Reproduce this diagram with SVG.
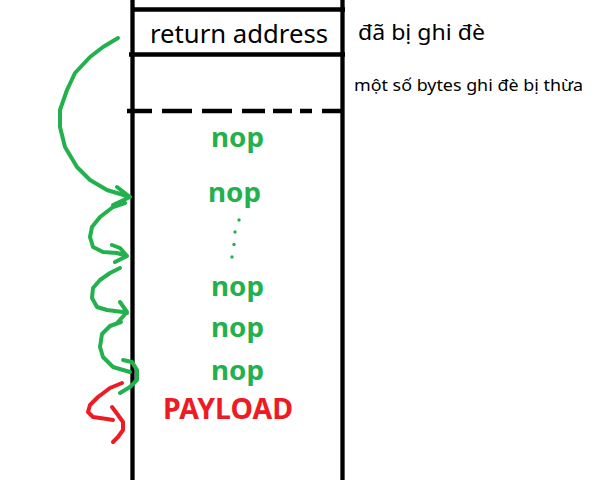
<svg xmlns="http://www.w3.org/2000/svg" width="612" height="480" viewBox="0 0 612 480">
<style>
.bl{stroke:#000;stroke-width:4.3;fill:none}
.g{stroke:#22b14c;stroke-width:4;fill:none;stroke-linecap:round;stroke-linejoin:round}
.r{stroke:#ed1c24;stroke-width:4;fill:none;stroke-linecap:round;stroke-linejoin:round}
.lbl{font-family:"Noto Sans","Open Sans","DejaVu Sans",sans-serif;fill:#000}
.nop{font-family:"Noto Sans","Open Sans","DejaVu Sans",sans-serif;font-weight:bold;font-size:27px;fill:#22b14c}
.pay{font-family:"Noto Sans","Open Sans","DejaVu Sans",sans-serif;font-weight:bold;font-size:28px;fill:#ed1c24}
</style>
<rect width="612" height="480" fill="#fff"/>
<g id="stack">
<path class="bl" d="M132.5,0 V480 M342.5,0 V480 M131,9.5 H345 M129,54.5 H345"/>
<path class="bl" d="M127,111 H152 M162,111 H192 M202,111 H232 M242,111 H265 M273,111 H292 M300,111 H312 M322,111 H342"/>
</g>
<g id="return-address"><text class="lbl" x="150" y="42.5" font-size="25" textLength="178" lengthAdjust="spacingAndGlyphs">return address</text></g>
<g id="note-overwritten"><text class="lbl" x="358" y="39.5" font-size="21" textLength="127" lengthAdjust="spacingAndGlyphs">đã bị ghi đè</text></g>
<g id="note-extra"><text class="lbl" x="354" y="90.5" font-size="16" textLength="229" lengthAdjust="spacingAndGlyphs">một số bytes ghi đè bị thừa</text></g>
<g id="nop1"><text class="nop" x="211" y="147" textLength="53" lengthAdjust="spacingAndGlyphs">nop</text></g>
<g id="nop2"><text class="nop" x="208" y="201.5" textLength="53" lengthAdjust="spacingAndGlyphs">nop</text></g>
<g id="dots" fill="#22b14c"><circle cx="239" cy="220" r="1.7"/><circle cx="235" cy="232" r="1.7"/><circle cx="234" cy="244.5" r="1.7"/><circle cx="232" cy="257" r="1.7"/></g>
<g id="nop3"><text class="nop" x="211" y="295.5" textLength="53" lengthAdjust="spacingAndGlyphs">nop</text></g>
<g id="nop4"><text class="nop" x="211" y="336.5" textLength="53" lengthAdjust="spacingAndGlyphs">nop</text></g>
<g id="nop5"><text class="nop" x="211" y="380" textLength="53" lengthAdjust="spacingAndGlyphs">nop</text></g>
<g id="payload"><text class="pay" x="163" y="418.5" textLength="130" lengthAdjust="spacingAndGlyphs">PAYLOAD</text></g>
<g id="connectors">
<path class="g" d="M118,38 L103,47 L90,57 L75,73 L67,90 L60,110 L60,127 L65,147 L77,167 L90,180 L107,190 L130,197 M117,187 L130,197 L113,205"/>
<path class="g" d="M125,203 L113,207 L100,217 L92,227 L90,237 L93,247 L103,252 L117,253 L127,256 M112,245 L120,248 L127,256 L115,262"/>
<path class="g" d="M120,268 L110,273 L100,280 L93,288 L92,298 L97,307 L107,310 L123,312 L127,313 M120,302 L127,312 L118,322"/>
<path class="g" d="M121,322 L110,326 L102,334 L100,347 L103,357 L113,367 L130,372 M123,360 L132,362 L137,370 L137,380 L130,387 L120,393"/>
<path class="r" d="M122,383 L110,388 L98,397 L90,405 L88,412 L93,417 L107,419 L113,420 M112,407 L118,415 L123,422 L123,430 L118,437 L113,442"/>
</g>
</svg>
